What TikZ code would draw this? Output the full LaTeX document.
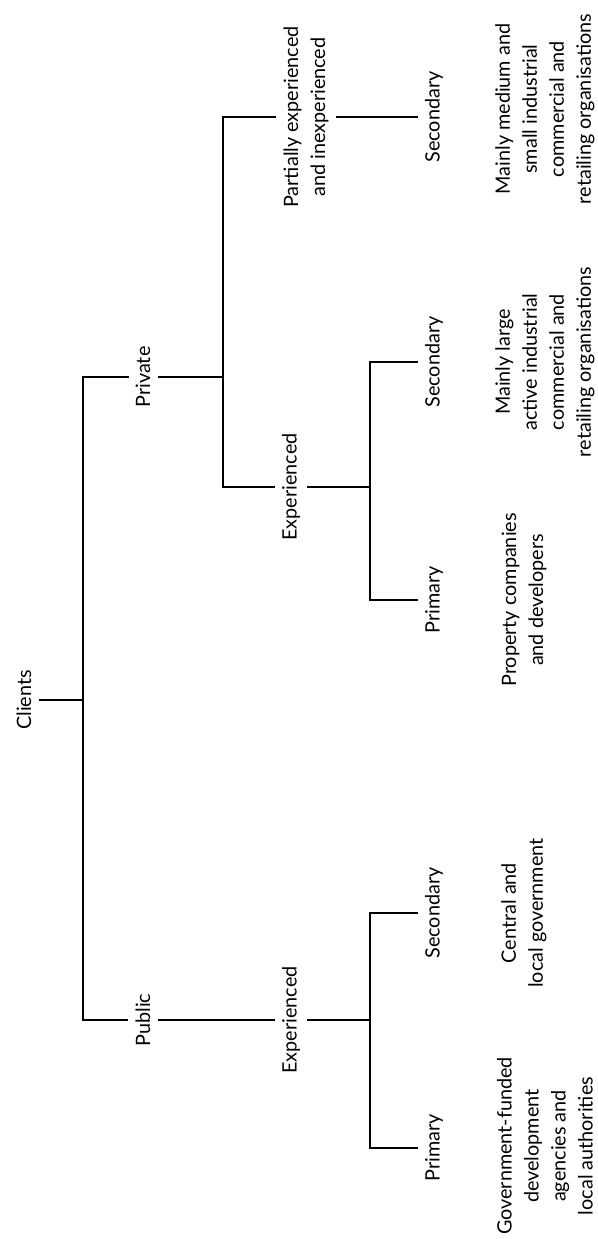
\documentclass[tikz,border=0pt]{standalone}
\usepackage{fontspec}
\setmainfont{Lato}
\begin{document}
\begin{tikzpicture}[x=1pt,y=-1pt,
  lab/.style={rotate=90, inner sep=7pt, align=center, font=\fontsize{19.8}{27}\selectfont},
  conn/.style={line width=1.1pt}]
\useasboundingbox (0,0) rectangle (597,1239);
\node[lab] (clients) at (24,700) {Clients};
\node[lab] (private) at (143,377) {Private};
\node[lab] (public) at (143,1020) {Public};
\node[lab] (pe) at (306,117) {Partially experienced\\and inexperienced};
\node[lab] (exppriv) at (291,487) {Experienced};
\node[lab] (exppub) at (291,1020) {Experienced};
\node[lab] (secpe) at (434,117) {Secondary};
\node[lab] (secpriv) at (434,362) {Secondary};
\node[lab] (primpriv) at (434,600) {Primary};
\node[lab] (secpub) at (434,913) {Secondary};
\node[lab] (primpub) at (434,1148) {Primary};
\node[lab] (dmed) at (545,109) {Mainly medium and\\small industrial\\commercial and\\retailing organisations};
\node[lab] (dlarge) at (545,362) {Mainly large\\active industrial\\commercial and\\retailing organisations};
\node[lab] (dprop) at (524,600) {Property companies\\and developers};
\node[lab] (dcent) at (524,913) {Central and\\local government};
\node[lab] (dgov) at (545,1146) {Government-funded\\development\\agencies and\\local authorities};
\coordinate (v1) at (83,700);
\coordinate (v2) at (223,300);
\coordinate (v3) at (370,480);
\coordinate (v4) at (370,1030);
\draw[conn] (clients.south) -- (clients.south -| v1);
\draw[conn] (private.north) -| (v1) |- (public.north);
\draw[conn] (private.south) -- (private.south -| v2);
\draw[conn] (pe.north) -| (v2) |- (exppriv.north);
\draw[conn] (pe.south) -- (secpe.north);
\draw[conn] (exppriv.south) -- (exppriv.south -| v3);
\draw[conn] (secpriv.north) -| (v3) |- (primpriv.north);
\draw[conn] (public.south) -- (exppub.north);
\draw[conn] (exppub.south) -- (exppub.south -| v4);
\draw[conn] (secpub.north) -| (v4) |- (primpub.north);
\end{tikzpicture}
\end{document}
